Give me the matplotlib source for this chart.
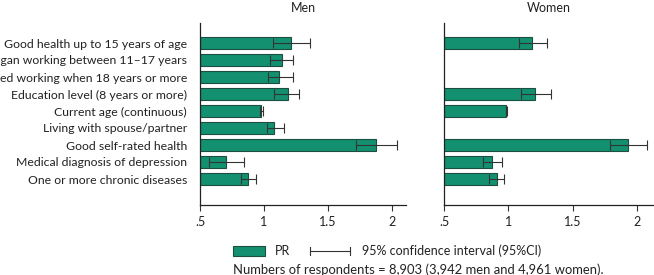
import numpy as np
import matplotlib
matplotlib.use("Agg")
import matplotlib.pyplot as plt
from matplotlib.patches import Rectangle
from matplotlib.lines import Line2D

plt.rcParams['font.family'] = ['Lato', 'DejaVu Sans']

# ---------------------------------------------------------
# Data
# ---------------------------------------------------------
labels = [
    "Good health up to 15 years of age",
    "Began working between 11\u201317 years",
    "Started working when 18 years or more",
    "Education level (8 years or more)",
    "Current age (continuous)",
    "Living with spouse/partner",
    "Good self-rated health",
    "Medical diagnosis of depression",
    "One or more chronic diseases",
]

men_pr = [1.21, 1.14, 1.12, 1.19, 0.98, 1.08, 1.875, 0.70, 0.875]
men_lo = [1.07, 1.05, 1.03, 1.08, 0.97, 1.02, 1.72, 0.57, 0.82]
men_hi = [1.36, 1.23, 1.23, 1.27, 0.99, 1.16, 2.04, 0.84, 0.94]

nan = np.nan
women_pr = [1.18, nan, nan, 1.21, 0.985, nan, 1.93, 0.87, 0.91]
women_lo = [1.08, nan, nan, 1.10, 0.98, nan, 1.79, 0.80, 0.85]
women_hi = [1.30, nan, nan, 1.33, 0.99, nan, 2.08, 0.95, 0.97]

xticks = [0.5, 1, 1.5, 2]
xticklabels = [".5", "1", "1.5", "2"]

BAR_COLOR = '#12906f'
EDGE_COLOR = '#1d4f40'
ERR_COLOR = '#333333'
TXT = '#222222'
BASE = 0.5
FS = 9

fig = plt.figure(figsize=(6.54, 2.75), dpi=100)
ax_m = fig.add_axes([200 / 654, 1 - 205 / 275, 206 / 654, 182 / 275])
ax_w = fig.add_axes([444 / 654, 1 - 205 / 275, 210 / 654, 182 / 275])


def draw_panel(ax, pr, lo, hi, title, xmax):
    y = np.arange(len(labels))
    pr = np.array(pr, dtype=float)
    lo = np.array(lo, dtype=float)
    hi = np.array(hi, dtype=float)
    ok = ~np.isnan(pr)
    ax.barh(y[ok], pr[ok] - BASE, left=BASE, height=0.65,
            color=BAR_COLOR, edgecolor=EDGE_COLOR, linewidth=0.8, zorder=2)
    ax.errorbar(pr[ok], y[ok], xerr=[pr[ok] - lo[ok], hi[ok] - pr[ok]],
                fmt='none', ecolor=ERR_COLOR, elinewidth=0.8,
                capsize=3.5, capthick=0.8, zorder=3)
    ax.set_xlim(BASE, xmax)
    ax.set_ylim(len(labels) - 1 + 26 / 17, -20 / 17)
    ax.set_xticks(xticks)
    ax.set_xticklabels(xticklabels, fontsize=FS, color=TXT)
    ax.tick_params(axis='x', direction='out', length=4, width=0.8,
                   color='#333333', pad=4)
    ax.tick_params(axis='y', length=0)
    for s in ['top', 'right']:
        ax.spines[s].set_visible(False)
    for s in ['left', 'bottom']:
        ax.spines[s].set_linewidth(0.9)
        ax.spines[s].set_color(TXT)
    ax.set_title(title, fontsize=FS, color=TXT, pad=8)


draw_panel(ax_m, men_pr, men_lo, men_hi, "Men", 0.5 + 206 / 128)
draw_panel(ax_w, women_pr, women_lo, women_hi, "Women", 0.5 + 210 / 128.7)

ax_m.set_yticks(np.arange(len(labels)))
ax_m.set_yticklabels(labels, fontsize=8.8, color=TXT)
ax_m.tick_params(axis='y', pad=9.4)
ax_w.set_yticks([])

# ---------------------------------------------------------
# Legend and note (figure coordinates)
# ---------------------------------------------------------
fig.patches.append(Rectangle((233 / 654, 1 - 256 / 275), 32 / 654, 10 / 275,
                             transform=fig.transFigure, facecolor=BAR_COLOR,
                             edgecolor=EDGE_COLOR, linewidth=0.8))
fig.text(275 / 654, 1 - 251 / 275, "PR", fontsize=FS, va='center', color=TXT)
fig.lines.append(Line2D([310 / 654, 350 / 654], [1 - 251 / 275] * 2,
                        transform=fig.transFigure, color=ERR_COLOR, lw=0.8))
for xx in (310, 350):
    fig.lines.append(Line2D([xx / 654] * 2, [1 - 247 / 275, 1 - 255 / 275],
                            transform=fig.transFigure, color=ERR_COLOR, lw=0.8))
fig.text(362 / 654, 1 - 251 / 275, "95% confidence interval (95%CI)",
         fontsize=FS, va='center', color=TXT)
fig.text(233 / 654, 1 - 270 / 275,
         "Numbers of respondents = 8,903 (3,942 men and 4,961 women).",
         fontsize=9.4, va='center', color=TXT)

fig.savefig("out.png", dpi=100)
plt.close(fig)
